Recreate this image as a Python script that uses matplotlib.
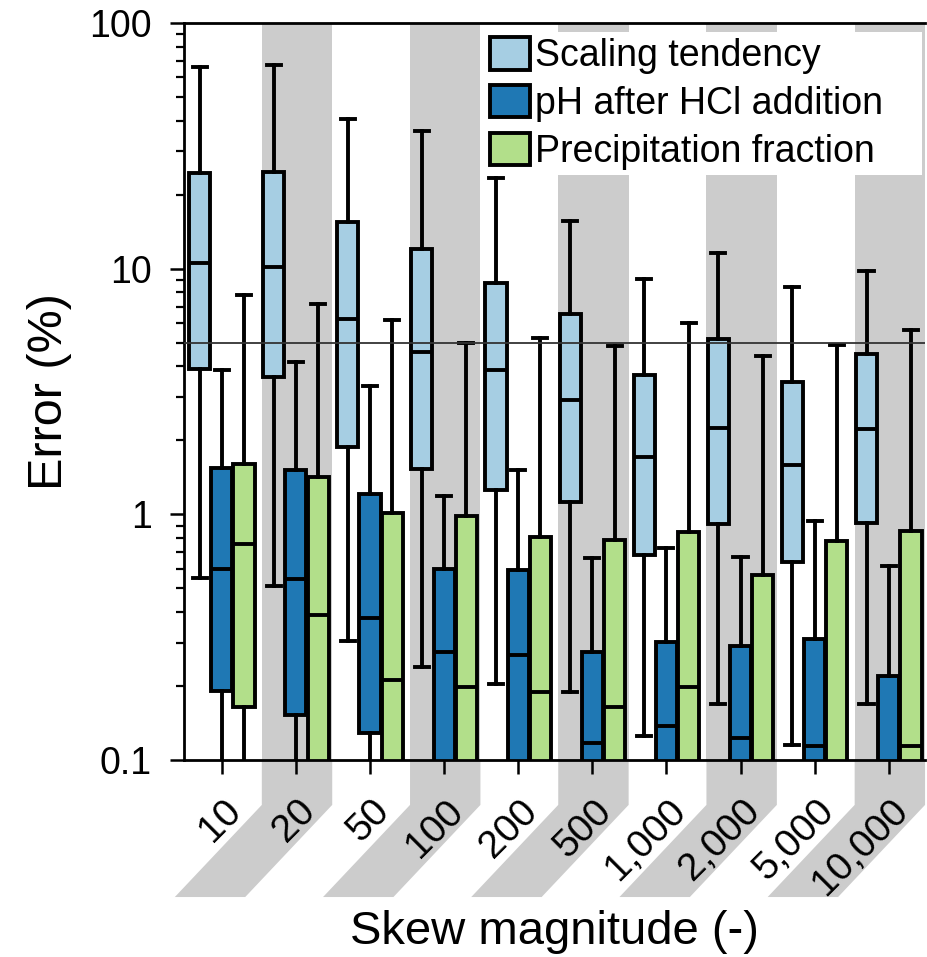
import matplotlib
matplotlib.use('Agg')
import matplotlib.pyplot as plt
from matplotlib.patches import Polygon, Patch
from matplotlib.ticker import LogLocator, NullFormatter

plt.rcParams['font.family'] = ['Liberation Sans', 'DejaVu Sans']

# Skew magnitudes (x categories)
skew_labels = ['10', '20', '50', '100', '200', '500', '1,000', '2,000', '5,000', '10,000']

# box stats: whisker low, q1, median, q3, whisker high (error in %)
scaling_lo = [0.55, 0.51, 0.305, 0.239, 0.204, 0.189, 0.125, 0.169, 0.115, 0.169]
scaling_q1 = [3.9, 3.62, 1.88, 1.53, 1.26, 1.12, 0.683, 0.914, 0.64, 0.92]
scaling_med = [10.5, 10.2, 6.24, 4.58, 3.87, 2.92, 1.71, 2.25, 1.59, 2.22]
scaling_q3 = [24.5, 24.7, 15.5, 12.0, 8.75, 6.53, 3.69, 5.17, 3.46, 4.5]
scaling_hi = [66, 67.4, 40.7, 36.3, 23.4, 15.6, 9.08, 11.6, 8.4, 9.8]

ph_lo = [0.05, 0.05, 0.05, 0.03, 0.03, 0.03, 0.03, 0.03, 0.03, 0.02]
ph_q1 = [0.191, 0.152, 0.129, 0.06, 0.06, 0.06, 0.06, 0.06, 0.06, 0.04]
ph_med = [0.60, 0.545, 0.378, 0.275, 0.267, 0.117, 0.137, 0.123, 0.114, 0.08]
ph_q3 = [1.55, 1.51, 1.21, 0.60, 0.593, 0.275, 0.302, 0.291, 0.311, 0.22]
ph_hi = [3.87, 4.17, 3.33, 1.19, 1.51, 0.664, 0.73, 0.667, 0.94, 0.616]

precip_lo = [0.05, 0.03, 0.03, 0.03, 0.03, 0.03, 0.03, 0.03, 0.03, 0.03]
precip_q1 = [0.164, 0.06, 0.06, 0.06, 0.06, 0.06, 0.06, 0.06, 0.05, 0.06]
precip_med = [0.76, 0.39, 0.212, 0.198, 0.189, 0.164, 0.198, 0.09, 0.08, 0.114]
precip_q3 = [1.6, 1.42, 1.01, 0.985, 0.81, 0.787, 0.847, 0.566, 0.78, 0.855]
precip_hi = [7.8, 7.2, 6.18, 4.98, 5.23, 4.84, 6.0, 4.4, 4.89, 5.62]

series_names = ['Scaling tendency', 'pH after HCl addition', 'Precipitation fraction']
series_colors = ['#a6cee3', '#1f78b4', '#b2df8a']
threshold = 5

series = [
    (scaling_lo, scaling_q1, scaling_med, scaling_q3, scaling_hi),
    (ph_lo, ph_q1, ph_med, ph_q3, ph_hi),
    (precip_lo, precip_q1, precip_med, precip_q3, precip_hi),
]

fig = plt.figure(figsize=(9.27, 9.57), dpi=100)
ax = fig.add_axes([0.1985, 0.2059, 0.7994, 0.7701])

n = len(skew_labels)
stripe = '#cccccc'
shift = 1.174  # slant of the stripes under the axis, in data units
for i in range(1, n, 2):
    a, b = i - 0.46, i + 0.49
    ax.axvspan(a, b, color=stripe, lw=0, zorder=0)
    poly = Polygon([(a, 0), (b, 0), (b, -0.061), (b - shift, -0.186),
                    (a - shift, -0.186), (a, -0.061)],
                   closed=True, facecolor=stripe, edgecolor='none',
                   transform=ax.get_xaxis_transform(), clip_on=False, zorder=0)
    ax.add_patch(poly)

offsets = [-0.30, 0.0, 0.30]
lw = 2.8
for k, (lo, q1, med, q3, hi) in enumerate(series):
    stats = []
    for i in range(n):
        stats.append({'whislo': lo[i], 'q1': q1[i], 'med': med[i], 'q3': q3[i],
                      'whishi': hi[i], 'fliers': []})
    bp = ax.bxp(stats, positions=[i + offsets[k] for i in range(n)], widths=0.285,
                capwidths=0.19, patch_artist=True, showfliers=False, manage_ticks=False,
                boxprops=dict(facecolor=series_colors[k], edgecolor='black', linewidth=lw),
                whiskerprops=dict(color='black', linewidth=lw),
                capprops=dict(color='black', linewidth=lw),
                medianprops=dict(color='black', linewidth=lw))
    for art in bp['boxes'] + bp['whiskers'] + bp['caps'] + bp['medians']:
        art.set_zorder(2)

ax.axhline(threshold, color='#333333', lw=1.3, zorder=3)

ax.set_yscale('log')
ax.set_ylim(0.1, 100)
ax.set_xlim(-0.51, 9.49)
ax.set_yticks([0.1, 1, 10, 100], ['0.1', '1', '10', '100'])
ax.yaxis.set_minor_locator(LogLocator(base=10, subs=range(2, 10)))
ax.yaxis.set_minor_formatter(NullFormatter())
ax.tick_params(axis='y', which='major', direction='out', length=10, width=1.8,
               labelsize=27, pad=13)
ax.tick_params(axis='y', which='minor', direction='out', length=5.5, width=1.6)

ax.set_xticks(range(n))
ax.tick_params(axis='x', direction='out', length=10, width=1.8, labelbottom=False)
for i, lab in enumerate(skew_labels):
    ax.text(i + 0.19, -0.062, lab, transform=ax.get_xaxis_transform(), rotation=45,
            rotation_mode='anchor', ha='right', va='center', fontsize=28, zorder=5)

for side in ['left', 'bottom', 'top']:
    ax.spines[side].set_linewidth(2.0)
ax.spines['right'].set_visible(False)

ax.set_ylabel('Error (%)', fontsize=35)
ax.yaxis.set_label_coords(-0.151, 0.5)
ax.set_xlabel('Skew magnitude (-)', fontsize=34)
ax.xaxis.set_label_coords(0.5, -0.203)

handles = [Patch(facecolor=c, edgecolor='black', linewidth=2.8) for c in series_colors]
leg = ax.legend(handles, series_names, loc='upper left',
                bbox_to_anchor=(0.406, 0.80, 0.59, 0.188), mode='expand',
                fontsize=27, frameon=True, fancybox=False, framealpha=1,
                handlelength=1.05, handleheight=0.95, handletextpad=0.15,
                labelspacing=0.28, borderpad=0.15, borderaxespad=0.0)
leg.get_frame().set_edgecolor('none')
leg.get_frame().set_facecolor('white')
leg.set_zorder(6)

fig.savefig('out.png', dpi=100)
